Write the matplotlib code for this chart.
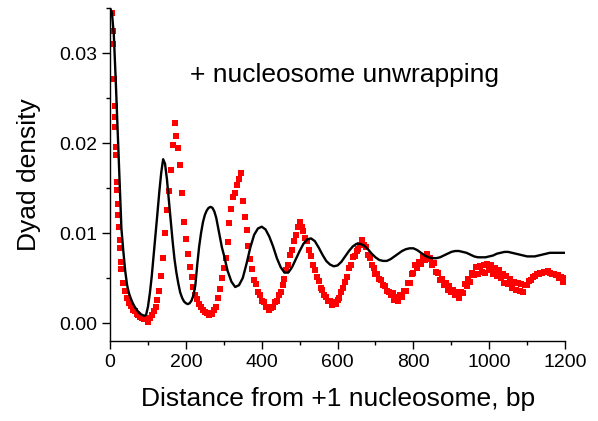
import matplotlib
matplotlib.use("Agg")
import matplotlib.pyplot as plt
from matplotlib.ticker import MultipleLocator

plt.rcParams['font.family'] = ['Liberation Sans', 'DejaVu Sans']

# ---- black theoretical curve ----
theory_x = list(range(0, 300, 5)) + list(range(300, 1201, 10))
theory_y = [
    0.0350, 0.0345, 0.0320, 0.0270, 0.0215, 0.0160, 0.0105, 0.0080, 0.0058, 0.0042,
    0.0033, 0.0027, 0.0022, 0.0018, 0.0015, 0.0012, 0.0010, 0.0009, 0.0008, 0.0009,
    0.0018, 0.0033, 0.0052, 0.0075, 0.0098, 0.0122, 0.0146, 0.0167, 0.0182, 0.0177,
    0.0160, 0.0137, 0.0113, 0.0091, 0.0071, 0.0056, 0.0044, 0.0034, 0.0028, 0.0024,
    0.0022, 0.0021, 0.0022, 0.0025, 0.0031, 0.0042, 0.0065, 0.0085, 0.0100, 0.0112,
    0.0120, 0.0125, 0.0128, 0.0129, 0.0128, 0.0124, 0.0117, 0.0106, 0.0095, 0.0084,
    # 300..1200 step 10
    0.0076, 0.0058, 0.0046, 0.0040, 0.0042, 0.0050, 0.0066, 0.0084, 0.0098, 0.0105,
    0.0107, 0.0104, 0.0096, 0.0085, 0.0072, 0.0062, 0.0056, 0.0056, 0.0062, 0.0071,
    0.0080, 0.0088, 0.0093, 0.0094, 0.0091, 0.0084, 0.0076, 0.0069, 0.0065, 0.0063,
    0.0064, 0.0068, 0.0074, 0.0080, 0.0085, 0.0088, 0.0088, 0.0086, 0.0082, 0.0077,
    0.0073, 0.0070, 0.0069, 0.0069, 0.0071, 0.0074, 0.0077, 0.0080, 0.0082, 0.0083,
    0.0083, 0.0081, 0.0078, 0.0075, 0.0073, 0.0072, 0.0072, 0.0073, 0.0075, 0.0077,
    0.0079, 0.0080, 0.0080, 0.0079, 0.0078, 0.0076, 0.0074, 0.0073, 0.0073, 0.0073,
    0.0074, 0.0075, 0.0077, 0.0078, 0.0079, 0.0079, 0.0078, 0.0077, 0.0076, 0.0075,
    0.0074, 0.0074, 0.0074, 0.0075, 0.0076, 0.0077, 0.0078, 0.0078, 0.0078, 0.0078,
    0.0078,
]

# ---- red experimental points ----
data_x = [6, 7, 9, 10.5, 12, 12.5, 13, 15, 15.5, 17.5, 18, 20, 20.5, 23, 25, 26.5, 28] + list(range(30, 1201, 5))
data_y = [
    0.0344, 0.0324, 0.0310, 0.0271, 0.0241, 0.0229, 0.0218, 0.0196, 0.0187, 0.0157,
    0.0148, 0.0132, 0.0120, 0.0107, 0.0092, 0.0083, 0.0068,
    # 30..1200 step 5
    0.0060, 0.0045, 0.0036, 0.0028, 0.0022, 0.0019, 0.0014, 0.0013, 0.0010, 0.0009,
    0.0007, 0.0006, 0.0004, 0.0005, 0.0001, 0.0006, 0.0009, 0.0013, 0.0018, 0.0026,
    0.0036, 0.0052, 0.0072, 0.0100, 0.0126, 0.0147, 0.0170, 0.0198, 0.0222, 0.0208,
    0.0194, 0.0176, 0.0144, 0.0112, 0.0093, 0.0077, 0.0062, 0.0051, 0.0040, 0.0031,
    0.0027, 0.0021, 0.0018, 0.0015, 0.0012, 0.0011, 0.0009, 0.0011, 0.0010, 0.0014,
    0.0018, 0.0028, 0.0038, 0.0050, 0.0061, 0.0072, 0.0090, 0.0111, 0.0127, 0.0140,
    0.0145, 0.0153, 0.0160, 0.0167, 0.0136, 0.0118, 0.0103, 0.0086, 0.0071, 0.0060,
    0.0048, 0.0043, 0.0034, 0.0031, 0.0025, 0.0023, 0.0018, 0.0018, 0.0014, 0.0017,
    0.0018, 0.0023, 0.0025, 0.0031, 0.0034, 0.0042, 0.0049, 0.0059, 0.0065, 0.0076,
    0.0081, 0.0091, 0.0098, 0.0107, 0.0112, 0.0107, 0.0102, 0.0094, 0.0091, 0.0081,
    0.0075, 0.0065, 0.0059, 0.0051, 0.0047, 0.0039, 0.0037, 0.0031, 0.0029, 0.0024,
    0.0024, 0.0020, 0.0023, 0.0021, 0.0026, 0.0028, 0.0035, 0.0039, 0.0046, 0.0051,
    0.0061, 0.0065, 0.0073, 0.0075, 0.0080, 0.0082, 0.0087, 0.0092, 0.0087, 0.0084,
    0.0076, 0.0072, 0.0064, 0.0061, 0.0055, 0.0054, 0.0049, 0.0048, 0.0042, 0.0041,
    0.0036, 0.0035, 0.0031, 0.0033, 0.0026, 0.0029, 0.0025, 0.0031, 0.0029, 0.0036,
    0.0036, 0.0044, 0.0045, 0.0055, 0.0056, 0.0064, 0.0061, 0.0068, 0.0066, 0.0073,
    0.0070, 0.0077, 0.0071, 0.0072, 0.0065, 0.0067, 0.0057, 0.0056, 0.0048, 0.0049,
    0.0042, 0.0044, 0.0037, 0.0041, 0.0034, 0.0037, 0.0031, 0.0034, 0.0028, 0.0035,
    0.0033, 0.0043, 0.0041, 0.0049, 0.0046, 0.0056, 0.0053, 0.0062, 0.0055, 0.0063,
    0.0057, 0.0065, 0.0056, 0.0066, 0.0059, 0.0064, 0.0055, 0.0061, 0.0052, 0.0059,
    0.0050, 0.0055, 0.0045, 0.0052, 0.0043, 0.0049, 0.0039, 0.0046, 0.0037, 0.0044,
    0.0036, 0.0043, 0.0035, 0.0042, 0.0042, 0.0047, 0.0048, 0.0051, 0.0052, 0.0055,
    0.0055, 0.0056, 0.0056, 0.0057, 0.0057, 0.0058, 0.0056, 0.0055, 0.0054, 0.0053,
    0.0053, 0.0050, 0.0051, 0.0046, 0.0050,
]

fig = plt.figure(figsize=(5.98, 4.21), dpi=100)
ax = fig.add_axes([0.184, 0.19, 0.761, 0.791])

ax.plot(data_x, data_y, linestyle='none', marker='s', markersize=4.4,
        color='#ff0000', markeredgewidth=0, zorder=2)
ax.plot(theory_x, theory_y, color='black', linewidth=1.7, zorder=3)

ax.set_xlim(0, 1200)
ax.set_ylim(-0.002, 0.035)

ax.xaxis.set_major_locator(MultipleLocator(200))
ax.xaxis.set_minor_locator(MultipleLocator(100))
ax.yaxis.set_major_locator(MultipleLocator(0.01))
ax.yaxis.set_minor_locator(MultipleLocator(0.005))
ax.yaxis.set_major_formatter(plt.FuncFormatter(lambda v, p: f"{v:.2f}"))

for s in ['top', 'right']:
    ax.spines[s].set_visible(False)
for s in ['left', 'bottom']:
    ax.spines[s].set_linewidth(1.0)

ax.tick_params(which='major', direction='out', length=6, width=1.0, labelsize=14, pad=3)
ax.tick_params(which='minor', direction='out', length=3, width=1.0)

ax.set_xlabel('Distance from +1 nucleosome, bp', fontsize=19, labelpad=12)
ax.set_ylabel('Dyad density', fontsize=19, labelpad=13)

ax.text(617, 0.0276, '+ nucleosome unwrapping', fontsize=19, ha='center', va='center')

fig.savefig('out.png', dpi=100)
